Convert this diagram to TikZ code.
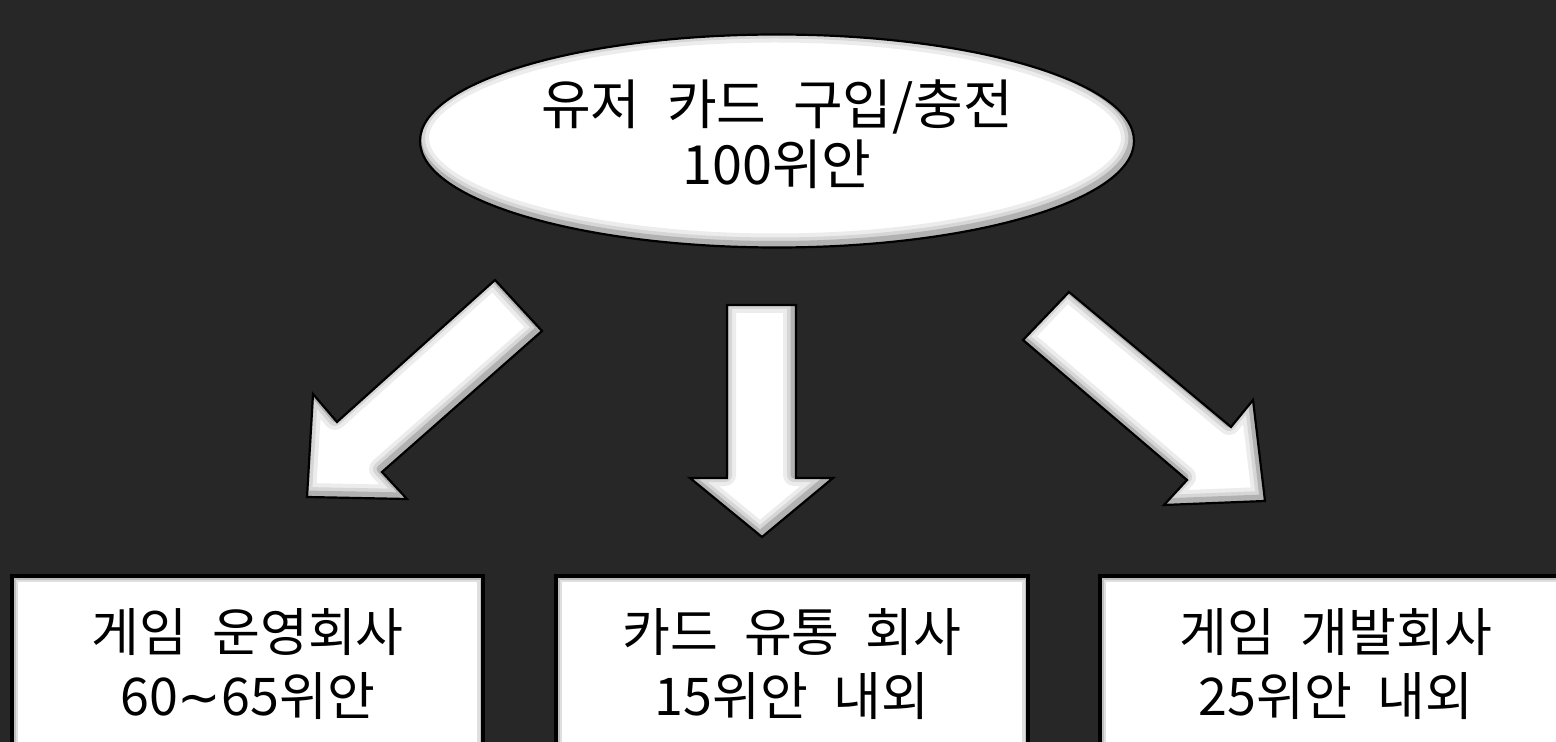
\documentclass[tikz,border=0pt]{standalone}
\usepackage{fontspec}
\setmainfont{Noto Sans CJK KR}[WordSpace=2.2]
\newfontfamily\symfont{DejaVu Sans}
\usetikzlibrary{shapes.geometric,backgrounds}
\definecolor{bgc}{HTML}{272727}
\newcommand{\bevelshape}[1]{%
  \fill[white] #1;
  \begin{scope}
    \clip #1;
    \begin{scope}[shift={(-2,-3)}]
      \draw[line width=11pt, gray!15, line join=round] #1;
      \draw[line width=7pt, gray!32, line join=round] #1;
      \draw[line width=3.5pt, gray!60, line join=round] #1;
    \end{scope}
  \end{scope}
  \draw[black, line width=1.1pt, line join=miter] #1;
}
\newcommand{\bevelbox}[1]{%
  \fill[white] #1;
  \begin{scope}
    \clip #1;
    \draw[line width=6pt, gray!25] #1;
    \draw[line width=3.5pt, gray!50] #1;
  \end{scope}
  \draw[black, line width=1.6pt] #1;
}
\tikzset{
  srcnode/.style={ellipse, minimum width=357pt, minimum height=106.5pt, inner sep=0pt,
    align=center, text=black, font=\fontsize{27}{30}\selectfont},
  boxnode/.style={rectangle, minimum width=235pt, minimum height=80pt, inner sep=0pt,
    align=center, text=black, font=\fontsize{26}{32}\selectfont}
}
\begin{document}
\begin{tikzpicture}[x=0.5pt,y=-0.5pt]
\useasboundingbox (0,0) rectangle (1556,742);
% nodes
\node[srcnode] (src) at (777,134) {유저 카드 구입/충전\\100위안};
\node[boxnode] (b1) at (247.5,664) {게임 운영회사\\60{\symfont\char"223C}65위안};
\node[boxnode] (b2) at (792,664) {카드 유통 회사\\15위안 내외};
\node[boxnode] (b3) at (1336,664) {게임 개발회사\\25위안 내외};
\begin{pgfonlayer}{background}
  \fill[bgc] (0,0) rectangle (1556,742);
  % ellipse
  \bevelshape{(777,141) ellipse [x radius=357, y radius=106.5]}
  % arrows
  \bevelshape{(495,280) -- (542,331) -- (382,472) -- (407,499) -- (307,497) -- (313,394) -- (337,422) -- cycle}
  \bevelshape{(727,305) -- (796,305) -- (796,478) -- (833,478) -- (762,537) -- (690,478) -- (727,478) -- cycle}
  \bevelshape{(1069,292) -- (1231,427) -- (1253,400) -- (1265,501) -- (1164,505) -- (1187,480) -- (1023,340) -- cycle}
  % boxes
  \bevelbox{(12,576) rectangle (483,760)}
  \bevelbox{(556,576) rectangle (1028,760)}
  \bevelbox{(1100,576) rectangle (1572,760)}
\end{pgfonlayer}
\end{tikzpicture}
\end{document}
